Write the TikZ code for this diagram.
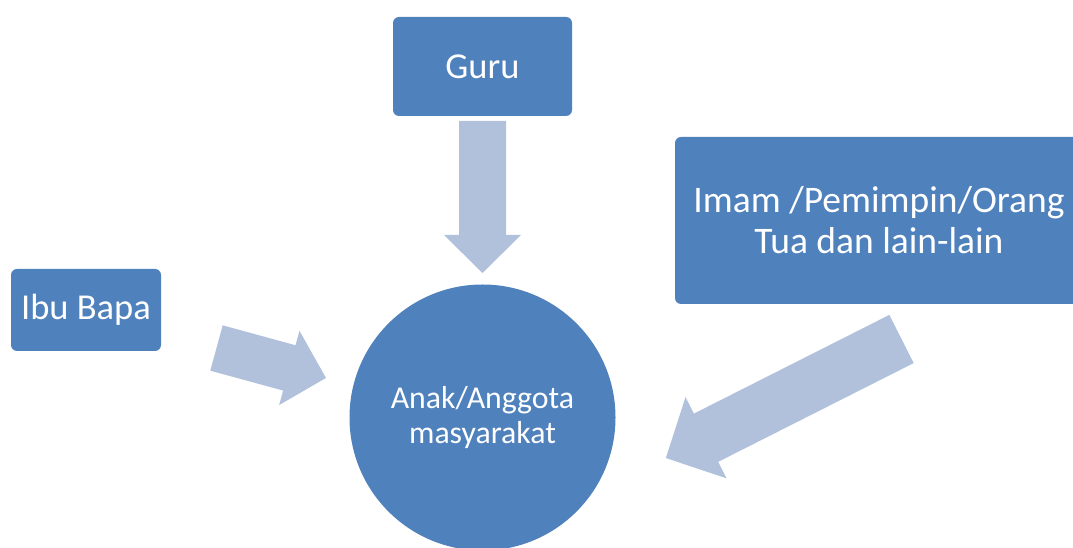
\documentclass[tikz,border=0pt]{standalone}
\usepackage{fontspec}
\setmainfont{Carlito}
\definecolor{boxblue}{HTML}{4F81BD}
\definecolor{arrowblue}{HTML}{B1C1DC}
\tikzset{
  bluebox/.style={draw=none, fill=boxblue, rounded corners=6pt, text=white, align=center, inner sep=0pt,
    font=\fontsize{36.5}{41}\selectfont},
  bluecircle/.style={circle, draw=none, fill=boxblue, text=white, align=center, inner sep=0pt,
    font=\fontsize{31.8}{35}\selectfont},
  fatarrow/.style={fill=arrowblue, draw=none}
}
% \fatarrowpoly{tail}{angle}{length}{shaft width}{head width}{head length}
\newcommand{\fatarrowpoly}[6]{%
  \begin{scope}[shift={#1}, rotate=#2]
    \fill[fatarrow] (0,-#4/2) -- ({#3-#6},-#4/2) -- ({#3-#6},-#5/2) -- (#3,0)
      -- ({#3-#6},#5/2) -- ({#3-#6},#4/2) -- (0,#4/2) -- cycle;
  \end{scope}}
\begin{document}
\begin{tikzpicture}[x=1pt,y=1pt]
\useasboundingbox (0,0) rectangle (1073,548);
\clip (0,0) rectangle (1073,548);
\fill[white] (0,0) rectangle (1073,548);

\node[bluecircle, minimum size=266pt] (anak) at (482.5,130.5) {Anak/Anggota\\masyarakat};
\node[bluebox, minimum width=179pt, minimum height=99pt] (guru) at (482.5,481.5) {Guru};
\node[bluebox, minimum width=150pt, minimum height=82pt] (ibu) at (86,238) {Ibu Bapa};
\node[bluebox, minimum width=408pt, minimum height=167pt, font=\fontsize{37.5}{41}\selectfont] (imam) at (879,327.5) {Imam /Pemimpin/Orang\\Tua dan lain-lain};

% arrows
\fatarrowpoly{(482.5,427)}{-90}{152}{47}{77}{38}
\fatarrowpoly{(216.5,200)}{-15.3}{113.5}{47}{77}{38}
\fatarrowpoly{(901.5,209)}{206.8}{264}{54}{91}{45}
\end{tikzpicture}
\end{document}
